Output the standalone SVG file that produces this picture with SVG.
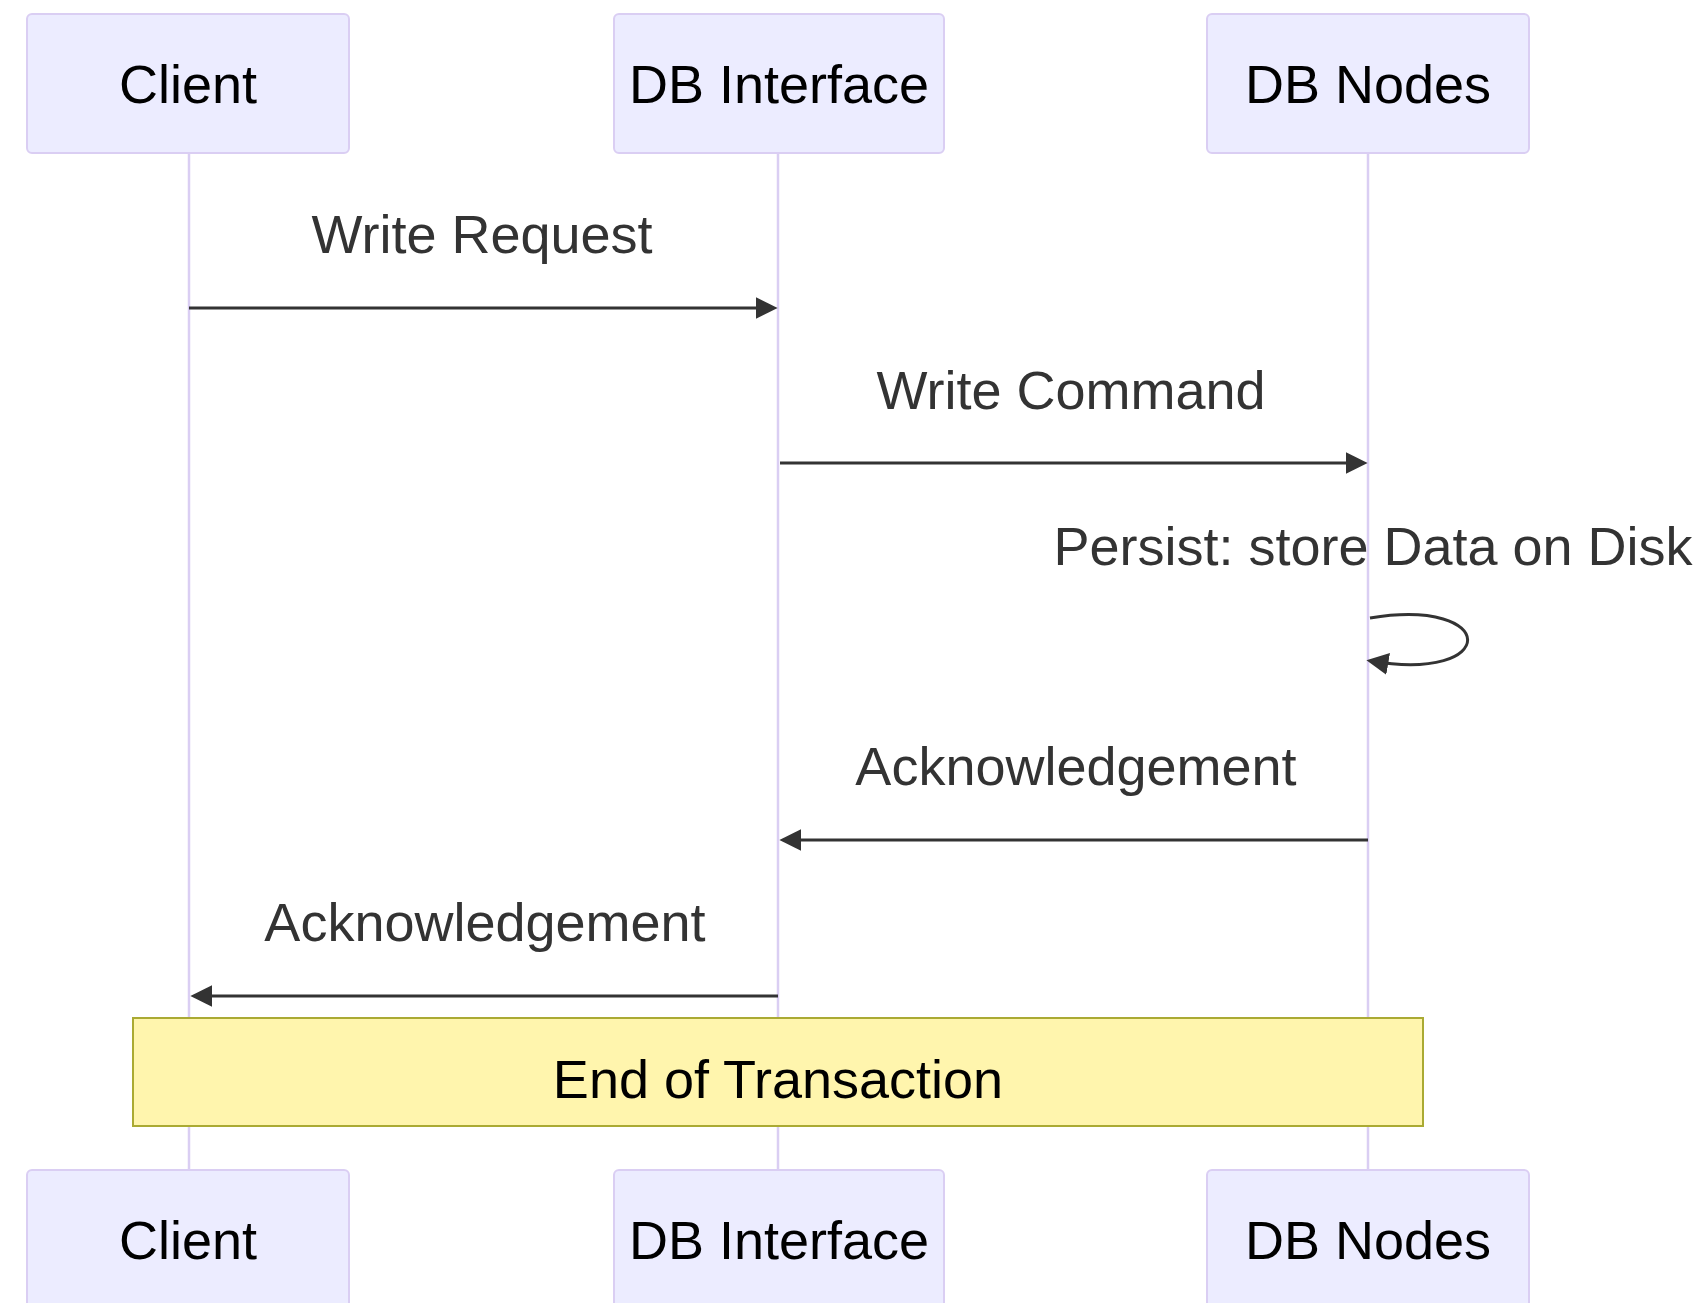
<svg xmlns="http://www.w3.org/2000/svg" width="1701" height="1303" viewBox="0 0 1701 1303">
<style>
.actor{fill:#ECECFF;stroke:#dacef3;stroke-width:2}
.atext{font-family:"Liberation Sans",Arial,sans-serif;font-size:54px;fill:#000;text-anchor:middle}
.life{stroke:#dacef3;stroke-width:2.5;fill:none}
.msg{stroke:#333;stroke-width:3;fill:none}
.mtext{font-family:"Liberation Sans",Arial,sans-serif;font-size:54px;fill:#333;text-anchor:middle}
.note{fill:#fff5ad;stroke:#aaaa33;stroke-width:2}
</style>
<defs>
<marker id="arrowhead" viewBox="0 0 10 10" refX="7.9" refY="5" markerUnits="userSpaceOnUse" markerWidth="22" markerHeight="22" orient="auto">
<path d="M 0 0 L 10 5 L 0 10 z" fill="#333"/>
</marker>
</defs>
<g id="lifelines">
<line class="life" x1="189" y1="153" x2="189" y2="1170"/>
<line class="life" x1="778" y1="153" x2="778" y2="1170"/>
<line class="life" x1="1368" y1="153" x2="1368" y2="1170"/>
</g>
<g id="client-top"><rect class="actor" x="27" y="14" width="322" height="139" rx="5"/><text class="atext" x="188" y="103">Client</text></g>
<g id="dbi-top"><rect class="actor" x="614" y="14" width="330" height="139" rx="5"/><text class="atext" x="779" y="103">DB Interface</text></g>
<g id="nodes-top"><rect class="actor" x="1207" y="14" width="322" height="139" rx="5"/><text class="atext" x="1368" y="103">DB Nodes</text></g>
<g id="connectors">
<text class="mtext" x="482" y="253">Write Request</text>
<line class="msg" x1="189" y1="308" x2="773" y2="308" marker-end="url(#arrowhead)"/>
<text class="mtext" x="1071" y="409">Write Command</text>
<line class="msg" x1="780" y1="463" x2="1363" y2="463" marker-end="url(#arrowhead)"/>
<text class="mtext" x="1373" y="565">Persist: store Data on Disk</text>
<path class="msg" d="M 1370 618 C 1500 597, 1500 683, 1371 661" marker-end="url(#arrowhead)"/>
<text class="mtext" x="1076" y="785">Acknowledgement</text>
<line class="msg" x1="1368" y1="840" x2="784" y2="840" marker-end="url(#arrowhead)"/>
<text class="mtext" x="485" y="941">Acknowledgement</text>
<line class="msg" x1="778" y1="996" x2="195" y2="996" marker-end="url(#arrowhead)"/>
</g>
<g id="note"><rect class="note" x="133" y="1018" width="1290" height="108"/><text class="atext" x="778" y="1098">End of Transaction</text></g>
<g id="client-bottom"><rect class="actor" x="27" y="1170" width="322" height="139" rx="5"/><text class="atext" x="188" y="1259">Client</text></g>
<g id="dbi-bottom"><rect class="actor" x="614" y="1170" width="330" height="139" rx="5"/><text class="atext" x="779" y="1259">DB Interface</text></g>
<g id="nodes-bottom"><rect class="actor" x="1207" y="1170" width="322" height="139" rx="5"/><text class="atext" x="1368" y="1259">DB Nodes</text></g>
</svg>
